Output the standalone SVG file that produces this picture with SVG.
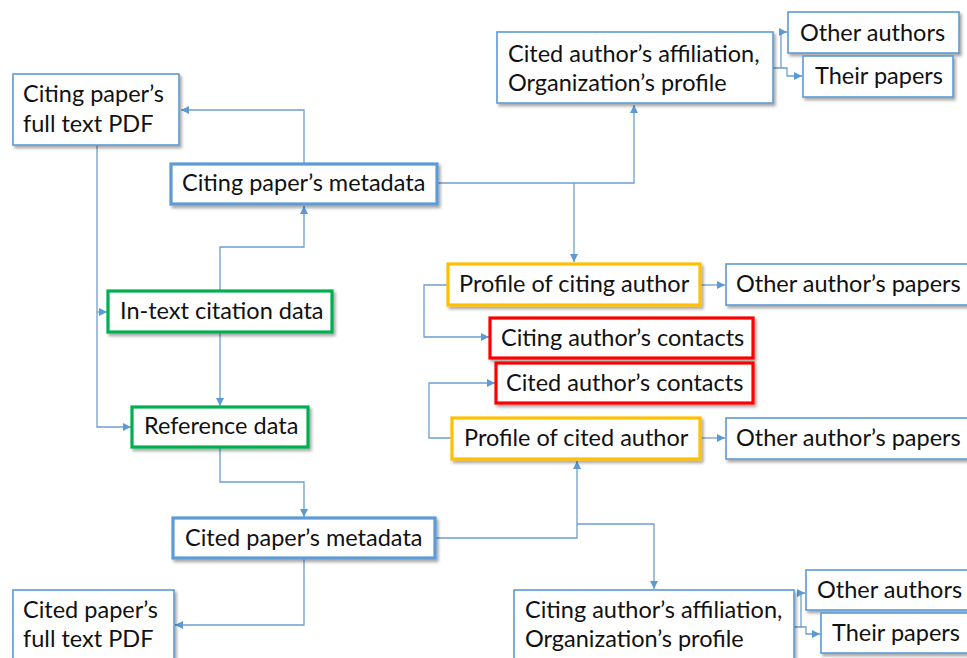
<svg xmlns="http://www.w3.org/2000/svg" width="967" height="658" viewBox="0 0 967 658">
<defs>
<filter id="sh" x="-10%" y="-10%" width="130%" height="140%">
<feDropShadow dx="2" dy="2.5" stdDeviation="1.5" flood-color="#000" flood-opacity="0.35"/>
</filter>
<marker id="ah" markerUnits="userSpaceOnUse" markerWidth="9" markerHeight="8" refX="8" refY="4" orient="auto">
<path d="M0,0 L8,4 L0,8 z" fill="#5b9bd5"/>
</marker>
<style>
.b{fill:#fff;filter:url(#sh)}
.thin{stroke:#5b9bd5;stroke-width:1.6}
.thick{stroke:#5b9bd5;stroke-width:3.2}
.grn{stroke:#00b050;stroke-width:3.2}
.yel{stroke:#ffc000;stroke-width:3.2}
.red{stroke:#ff0000;stroke-width:3.2}
text{font-family:Lato,"Open Sans","Liberation Sans",sans-serif;font-size:23.5px;fill:#111}
.c{fill:none;stroke:#6f9fd0;stroke-width:1.3;marker-end:url(#ah)}
</style>
</defs>
<g id="connectors">
<path class="c" d="M304,163 V110 H181"/>
<path class="c" d="M97,145 V427 H131"/>
<path class="c" d="M97,312 H107"/>
<path class="c" d="M220,290 V247 H304 V206"/>
<path class="c" d="M220,332 V406"/>
<path class="c" d="M220,447 V482 H304 V517"/>
<path class="c" d="M304,559 V625 H175"/>
<path class="c" d="M437,183 H634 V105"/>
<path class="c" d="M574,183 V262"/>
<path class="c" d="M700,285 H725"/>
<path class="c" d="M448,285 H424 V337 H489"/>
<path class="c" d="M452,438 H429 V383 H495"/>
<path class="c" d="M700,438 H725"/>
<path class="c" d="M435,538 H577 V461"/>
<path class="c" d="M577,524 H654 V589"/>
<path class="c" d="M773,68 H781 V32 H787"/>
<path class="c" d="M781,68 H787 V76 H802"/>
<path class="c" d="M794,627 H801 V593 H805"/>
<path class="c" d="M801,627 H806 V634 H820"/>
</g>
<g id="citing-pdf"><rect class="b thin" x="13" y="74" width="166" height="71"/><text x="23" y="102">Citing paper’s</text><text x="23" y="132">full text PDF</text></g>
<g id="citing-metadata"><rect class="b thick" x="171" y="164" width="266" height="40"/><text x="182" y="191">Citing paper’s metadata</text></g>
<g id="cited-affiliation"><rect class="b thin" x="497" y="32" width="276" height="71"/><text x="508" y="62">Cited author’s affiliation,</text><text x="508" y="91">Organization’s profile</text></g>
<g id="other-authors-top"><rect class="b thin" x="788" y="12" width="171" height="41"/><text x="800" y="41">Other authors</text></g>
<g id="their-papers-top"><rect class="b thin" x="803" y="56" width="150" height="41"/><text x="815" y="84">Their papers</text></g>
<g id="profile-citing"><rect class="b yel" x="448" y="264" width="252" height="41"/><text x="459" y="292">Profile of citing author</text></g>
<g id="other-papers-1"><rect class="b thin" x="726" y="264" width="250" height="41"/><text x="736" y="292">Other author’s papers</text></g>
<g id="citing-contacts"><rect class="b red" x="490" y="318" width="263" height="40"/><text x="501" y="346">Citing author’s contacts</text></g>
<g id="cited-contacts"><rect class="b red" x="496" y="363" width="257" height="40"/><text x="506" y="391">Cited author’s contacts</text></g>
<g id="profile-cited"><rect class="b yel" x="452" y="418" width="248" height="41"/><text x="464" y="446">Profile of cited author</text></g>
<g id="other-papers-2"><rect class="b thin" x="726" y="418" width="250" height="41"/><text x="736" y="446">Other author’s papers</text></g>
<g id="in-text"><rect class="b grn" x="108" y="291" width="224" height="41"/><text x="120" y="319">In-text citation data</text></g>
<g id="reference"><rect class="b grn" x="132" y="407" width="176" height="40"/><text x="144" y="434">Reference data</text></g>
<g id="cited-metadata"><rect class="b thick" x="173" y="518" width="262" height="40"/><text x="185" y="546">Cited paper’s metadata</text></g>
<g id="cited-pdf"><rect class="b thin" x="13" y="590" width="161" height="80"/><text x="23" y="618">Cited paper’s</text><text x="23" y="647">full text PDF</text></g>
<g id="citing-affiliation"><rect class="b thin" x="514" y="590" width="280" height="80"/><text x="525" y="618">Citing author’s affiliation,</text><text x="525" y="647">Organization’s profile</text></g>
<g id="other-authors-bottom"><rect class="b thin" x="806" y="570" width="170" height="40"/><text x="817" y="598">Other authors</text></g>
<g id="their-papers-bottom"><rect class="b thin" x="821" y="613" width="155" height="40"/><text x="832" y="641">Their papers</text></g>
</svg>
